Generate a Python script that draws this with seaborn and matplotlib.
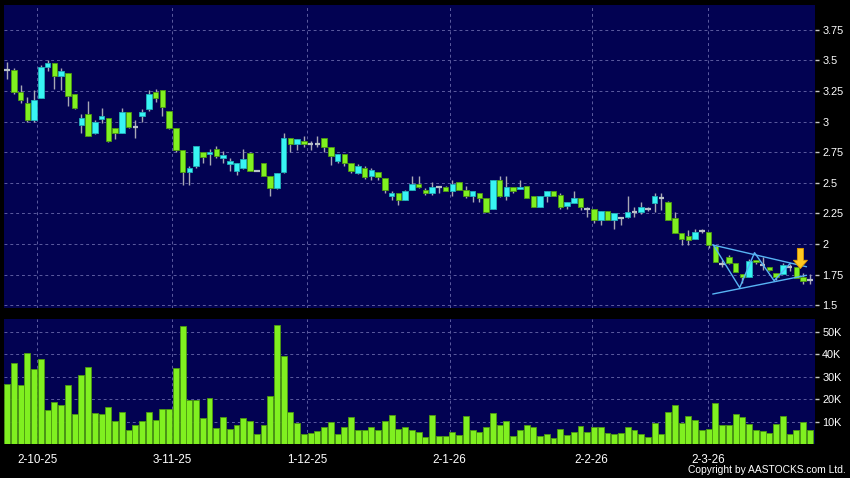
import matplotlib
matplotlib.use("Agg")
import matplotlib.pyplot as plt
import numpy as np
import pandas as pd
import seaborn as sns

# ---------------- data ----------------
opens = [3.42, 3.42, 3.24, 3.15, 3.01, 3.19, 3.45, 3.48, 3.37, 3.40,
         3.23, 2.97, 3.06, 2.91, 3.02, 3.03, 2.95, 2.91, 3.08, 2.96,
         3.05, 3.10, 3.24, 3.26, 3.09, 2.95, 2.77, 2.59, 2.64, 2.75,
         2.735, 2.78, 2.705, 2.655, 2.60, 2.62, 2.74, 2.60, 2.66, 2.56,
         2.455, 2.59, 2.865, 2.815, 2.84, 2.82, 2.82, 2.865, 2.79, 2.68,
         2.735, 2.66, 2.58, 2.62, 2.56, 2.59, 2.54, 2.395, 2.415, 2.36,
         2.445, 2.49, 2.445, 2.415, 2.47, 2.465, 2.435, 2.505, 2.44, 2.39,
         2.415, 2.38, 2.29, 2.525, 2.395, 2.47, 2.45, 2.475, 2.39, 2.305,
         2.39, 2.435, 2.40, 2.31, 2.335, 2.375, 2.29, 2.285, 2.20, 2.27,
         2.195, 2.21, 2.22, 2.265, 2.26, 2.285, 2.335, 2.38, 2.345, 2.21,
         2.09, 2.07, 2.045, 2.105, 2.095, 1.985, 1.84, 1.895, 1.845, 1.755,
         1.735, 1.87, 1.83, 1.815, 1.76, 1.755, 1.81, 1.815, 1.735, 1.705]
highs = [3.49, 3.44, 3.30, 3.20, 3.26, 3.46, 3.50, 3.48, 3.44, 3.40,
         3.23, 3.06, 3.17, 3.01, 3.11, 3.03, 2.95, 3.11, 3.08, 3.01,
         3.10, 3.26, 3.27, 3.26, 3.09, 2.95, 2.77, 2.64, 2.80, 2.75,
         2.78, 2.80, 2.76, 2.70, 2.66, 2.78, 2.755, 2.605, 2.66, 2.56,
         2.58, 2.91, 2.865, 2.855, 2.885, 2.84, 2.885, 2.87, 2.79, 2.735,
         2.735, 2.66, 2.655, 2.635, 2.62, 2.59, 2.54, 2.43, 2.415, 2.44,
         2.555, 2.555, 2.455, 2.51, 2.475, 2.475, 2.52, 2.51, 2.475, 2.43,
         2.415, 2.38, 2.525, 2.555, 2.555, 2.47, 2.525, 2.475, 2.39, 2.395,
         2.435, 2.435, 2.415, 2.34, 2.43, 2.375, 2.305, 2.285, 2.27, 2.27,
         2.25, 2.21, 2.395, 2.305, 2.34, 2.30, 2.415, 2.415, 2.35, 2.265,
         2.09, 2.115, 2.125, 2.12, 2.095, 1.985, 1.87, 1.91, 1.845, 1.755,
         1.88, 1.87, 1.895, 1.815, 1.76, 1.845, 1.84, 1.815, 1.76, 1.755]
lows = [3.35, 3.23, 3.15, 3.00, 3.00, 3.19, 3.41, 3.27, 3.26, 3.13,
        3.10, 2.91, 2.88, 2.90, 2.99, 2.83, 2.86, 2.91, 2.95, 2.87,
        3.00, 3.09, 3.16, 3.05, 2.94, 2.75, 2.48, 2.48, 2.62, 2.66,
        2.65, 2.70, 2.66, 2.60, 2.565, 2.61, 2.60, 2.595, 2.56, 2.39,
        2.45, 2.58, 2.75, 2.77, 2.795, 2.77, 2.795, 2.75, 2.645, 2.66,
        2.64, 2.58, 2.575, 2.535, 2.525, 2.525, 2.415, 2.36, 2.32, 2.36,
        2.44, 2.46, 2.40, 2.40, 2.415, 2.43, 2.39, 2.44, 2.375, 2.345,
        2.345, 2.265, 2.285, 2.385, 2.36, 2.415, 2.45, 2.38, 2.30, 2.305,
        2.345, 2.39, 2.29, 2.29, 2.335, 2.28, 2.225, 2.175, 2.16, 2.195,
        2.12, 2.155, 2.215, 2.22, 2.245, 2.27, 2.265, 2.28, 2.20, 2.09,
        1.995, 1.995, 2.04, 2.09, 1.965, 1.855, 1.81, 1.84, 1.775, 1.68,
        1.735, 1.84, 1.79, 1.78, 1.71, 1.755, 1.78, 1.72, 1.675, 1.675]
closes = [3.42, 3.24, 3.18, 3.01, 3.18, 3.45, 3.48, 3.37, 3.41, 3.21,
          3.11, 3.03, 2.88, 3.00, 3.05, 2.84, 2.91, 3.08, 2.96, 2.96,
          3.08, 3.23, 3.19, 3.12, 2.95, 2.77, 2.59, 2.62, 2.80, 2.71,
          2.75, 2.72, 2.73, 2.675, 2.66, 2.695, 2.60, 2.60, 2.56, 2.46,
          2.58, 2.865, 2.815, 2.855, 2.815, 2.82, 2.82, 2.79, 2.72, 2.735,
          2.665, 2.60, 2.64, 2.55, 2.605, 2.55, 2.44, 2.415, 2.36, 2.435,
          2.49, 2.465, 2.42, 2.465, 2.47, 2.435, 2.49, 2.44, 2.395, 2.43,
          2.38, 2.265, 2.525, 2.39, 2.47, 2.43, 2.47, 2.38, 2.305, 2.39,
          2.435, 2.395, 2.305, 2.34, 2.375, 2.30, 2.29, 2.20, 2.27, 2.195,
          2.25, 2.21, 2.265, 2.265, 2.30, 2.285, 2.39, 2.38, 2.20, 2.09,
          2.045, 2.03, 2.095, 2.105, 1.995, 1.855, 1.84, 1.845, 1.775, 1.73,
          1.865, 1.85, 1.83, 1.785, 1.73, 1.83, 1.81, 1.72, 1.70, 1.705]
volumes = [26800, 36400, 26200, 40500, 33600, 38200, 15300, 18700, 17600, 26600,
           13700, 31000, 34500, 14000, 13400, 16700, 10500, 14500, 6500, 8700,
           10500, 14500, 10600, 15500, 15900, 33900, 52800, 19900, 19900, 11500,
           20700, 7300, 12200, 6900, 8400, 11900, 10200, 4500, 8400, 21600,
           53100, 39500, 14500, 9400, 4700, 5100, 6000, 7900, 9900, 4500,
           7500, 12200, 6200, 6500, 7600, 6500, 10500, 13100, 6600, 7900,
           6200, 5400, 3300, 13100, 3800, 3800, 5400, 4200, 12400, 6300,
           5300, 7900, 14000, 8500, 10200, 3500, 6200, 8500, 7800, 3900,
           4700, 2900, 6700, 4200, 5400, 8100, 5700, 7800, 7500, 5000,
           4400, 5100, 7800, 6500, 4500, 3300, 9300, 4500, 14300, 17300,
           9600, 12500, 10800, 6500, 6900, 18500, 8700, 8700, 13300, 12100,
           9000, 6300, 5900, 5100, 9100, 12400, 4800, 6500, 9900, 6300]

date_labels = ["2-10-25", "3-11-25", "1-12-25", "2-1-26", "2-2-26", "2-3-26"]
date_pos = [4.46, 24.48, 44.49, 65.6, 86.66, 103.94]
price_ticks = [1.5, 1.75, 2.0, 2.25, 2.5, 2.75, 3.0, 3.25, 3.5, 3.75]
price_labels = ["1.5", "1.75", "2", "2.25", "2.5", "2.75", "3", "3.25", "3.5", "3.75"]
vol_ticks = [10000, 20000, 30000, 40000, 50000]
vol_labels = ["10K", "20K", "30K", "40K", "50K"]

# drawn pattern (triangle + zigzag) and arrow marker
zigzag_idx = [104.7, 108.6, 110.8, 113.7, 116.1]
zigzag_price = [1.993, 1.644, 1.930, 1.701, 1.843]
upper_idx = [104.6, 118.5]
upper_price = [1.993, 1.815]
lower_idx = [104.6, 118.5]
lower_price = [1.592, 1.745]
arrow_idx = 117.6
arrow_top = 1.965
arrow_tip = 1.80

# ---------------- style ----------------
sns.set_theme(style="dark")
plt.rcParams["font.family"] = ["Liberation Sans", "DejaVu Sans"]

BG = "#000000"
PANEL = "#020252"
GRID = "#5c5ca0"
UP = "#38f4f4"
DOWN = "#80f020"
WICK = "#a8a8b4"
TXT = "#ffffff"

df = pd.DataFrame({"idx": np.arange(len(opens)), "open": opens, "high": highs,
                   "low": lows, "close": closes, "volume": volumes})

W, H = 850, 478
fig = plt.figure(figsize=(W / 100, H / 100), dpi=100, facecolor=BG)
left, right = 4.0, 814.5
ax = fig.add_axes([left / W, 1 - 308.3 / H, (right - left) / W, (308.3 - 5) / H])
axv = fig.add_axes([left / W, 1 - 444.3 / H, (right - left) / W, (444.3 - 319) / H])

xlim = (-0.47, 119.69)

for a in (ax, axv):
    a.set_facecolor(PANEL)
    for s in a.spines.values():
        s.set_visible(False)

# ---------------- volume panel (seaborn) ----------------
sns.barplot(data=df, x="idx", y="volume", ax=axv, color=DOWN, saturation=1,
            width=0.88, edgecolor="#4c9a10", linewidth=0.6, native_scale=True)
axv.set_xlim(*xlim)
axv.set_ylim(0, 55800)
axv.set_xlabel("")
axv.set_ylabel("")

# ---------------- candles ----------------
ax.vlines(df["idx"], df["low"], df["high"], color=WICK, linewidth=1.0, zorder=2)
body_w = 0.82
up = df[df["close"] > df["open"]]
dn = df[df["close"] < df["open"]]
dj = df[df["close"] == df["open"]]
ax.bar(up["idx"], up["close"] - up["open"], bottom=up["open"], width=body_w,
       color=UP, edgecolor="#20b0b8", linewidth=0.6, zorder=3)
ax.bar(dn["idx"], dn["open"] - dn["close"], bottom=dn["close"], width=body_w,
       color=DOWN, edgecolor="#4c9a10", linewidth=0.6, zorder=3)
ax.hlines(dj["close"], dj["idx"] - body_w / 2, dj["idx"] + body_w / 2,
          color="#b8c0c8", linewidth=1.6, zorder=3)

# pattern lines
LINE = "#58b4f4"
ax.plot(upper_idx, upper_price, color=LINE, lw=1.0, zorder=4)
ax.plot(lower_idx, lower_price, color=LINE, lw=1.0, zorder=4)
ax.plot(zigzag_idx, zigzag_price, color=LINE, lw=1.0, zorder=4)
ax.arrow(arrow_idx, arrow_top, 0, arrow_tip - arrow_top, width=0.9, head_width=2.1,
         head_length=0.068, length_includes_head=True, color="#ffc820",
         ec="#e09a00", lw=0.6, zorder=5)

ax.set_xlim(*xlim)
ax.set_ylim(1.4755, 3.953)

# ---------------- axes / grid ----------------
gkw = dict(color=GRID, linestyle=(0, (3, 3)), linewidth=0.7)
ax.set_xticks(date_pos)
ax.set_xticklabels([])
ax.set_yticks(price_ticks)
ax.set_yticklabels(price_labels)
ax.grid(True, **gkw)
ax.yaxis.tick_right()
ax.tick_params(axis="x", length=0)
ax.tick_params(axis="y", length=3, width=1, color="#c8c8c8", labelcolor=TXT,
               labelsize=7.8, pad=2.5, direction="out")

axv.set_xticks(date_pos)
axv.set_xticklabels(date_labels)
axv.set_yticks(vol_ticks)
axv.set_yticklabels(vol_labels)
axv.grid(True, **gkw)
axv.yaxis.tick_right()
axv.tick_params(axis="x", length=4, width=1, color="#c8c8c8", labelcolor=TXT,
                labelsize=8.4, pad=3, direction="out")
axv.tick_params(axis="y", length=3, width=1, color="#c8c8c8", labelcolor=TXT,
                labelsize=7.8, pad=2.5, direction="out")
for a in (ax, axv):
    a.set_axisbelow(True)

fig.text(846 / W, 1 - 470 / H, "Copyright by AASTOCKS.com Ltd.", ha="right",
         va="center", color=TXT, fontsize=7.4)

fig.savefig("out.png", dpi=100, facecolor=BG)
